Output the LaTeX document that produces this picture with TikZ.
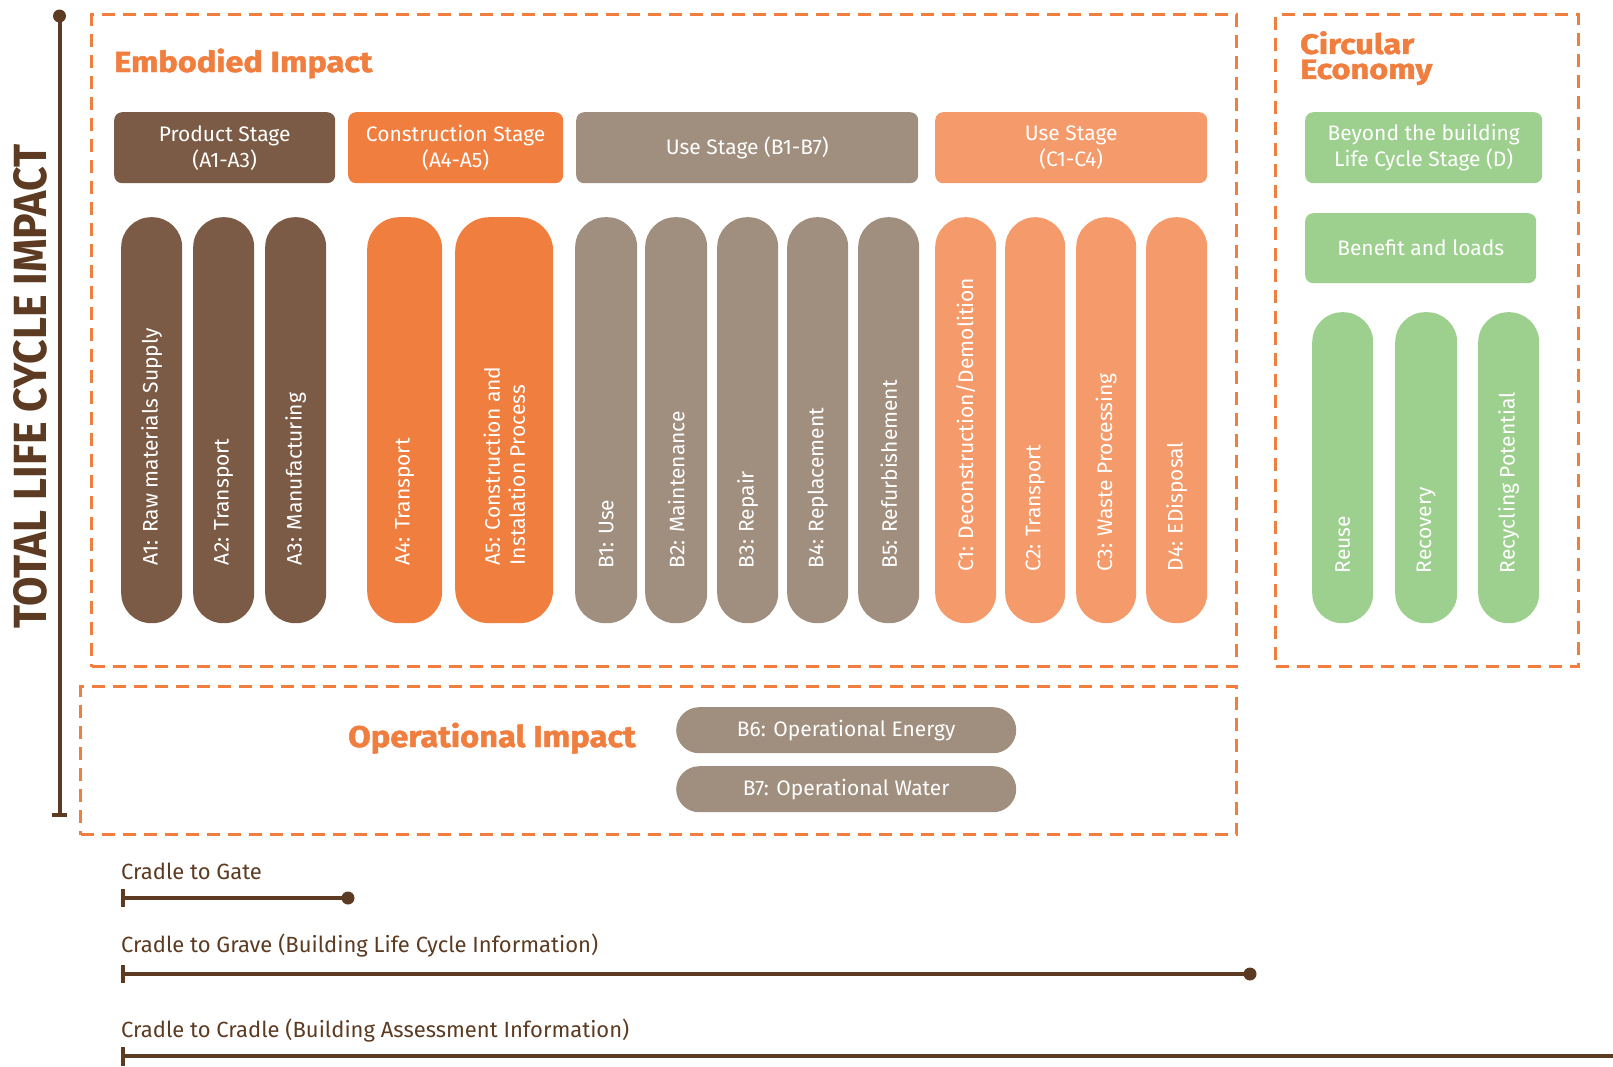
\documentclass[tikz,border=0pt]{standalone}
\usepackage{fontspec}
\setmainfont{Fira Sans}
\newfontfamily\heavyfont[BoldFeatures={FakeBold=1.5}]{Fira Sans}
\usepackage{graphicx}
\definecolor{brownD}{HTML}{7B5B45}
\definecolor{orangeC}{HTML}{F07E3F}
\definecolor{taupe}{HTML}{A08E7E}
\definecolor{orangeL}{HTML}{F59B6B}
\definecolor{greenL}{HTML}{9DD08F}
\definecolor{dashc}{HTML}{F07E3F}
\definecolor{axisc}{HTML}{5C3B22}
\newcommand\mkpill[7]{%
  \pgfmathsetmacro\pw{#3-#2}\pgfmathsetmacro\ph{#5-#4}%
  \node[pillbox, fill=#6, rounded corners=#7pt, minimum width=\pw pt, minimum height=\ph pt] (#1) at (#2,#4) {};}
\newcommand\mkbox[7]{%
  \pgfmathsetmacro\pw{#3-#2}\pgfmathsetmacro\ph{#5-#4}%
  \node[hdrbox, fill=#6, minimum width=\pw pt, minimum height=\ph pt] (#1) at (#2,#4) {#7};}
\begin{document}
\begin{tikzpicture}[x=1pt,y=-1pt,
  dashbox/.style={draw=dashc, line width=3pt, dash pattern=on 13pt off 8pt, inner sep=0, anchor=north west},
  hdrbox/.style={rectangle, rounded corners=8pt, inner sep=0, anchor=north west, text=white,
     font=\fontsize{21}{26}\selectfont, align=center},
  pillbox/.style={rectangle, inner sep=0, anchor=north west},
  vtext/.style={rotate=90, anchor=west, text=white, font=\fontsize{21}{25}\selectfont, inner sep=0, align=left},
  title/.style={text=dashc, font=\fontsize{29}{25}\selectfont\heavyfont\bfseries, inner sep=0},
  axisline/.style={draw=axisc, line width=4pt},
  bottomlabel/.style={text=axisc, font=\fontsize{22}{26}\selectfont, inner sep=0, anchor=base west},
  optext/.style={text=white, font=\fontsize{21}{25}\selectfont}
]
\useasboundingbox (0,0) rectangle (1613,1066);

% dashed frames
\node[dashbox, minimum width=1145pt, minimum height=652pt] (emb) at (90,13) {};
\node[dashbox, minimum width=303pt, minimum height=652pt] (circ) at (1274,13) {};
\node[dashbox, minimum width=1156pt, minimum height=148pt] (oper) at (79,685) {};

% titles
\node[title, anchor=base west] (embt) at (114,72) {\scalebox{1.12}[1]{Embodied Impact}};
\node[title, anchor=north west, align=left, font=\fontsize{28}{25}\selectfont\heavyfont\bfseries] (circt) at (1300,31) {\scalebox{1.16}[1]{Circular}\\\scalebox{1.16}[1]{Economy}};
\node[title, anchor=base west, font=\fontsize{30}{25}\selectfont\heavyfont\bfseries] (opert) at (348,747) {\scalebox{1.09}[1]{Operational Impact}};

% stage headers
\mkbox{prod}{114}{335}{112}{183}{brownD}{Product Stage\\(A1-A3)}
\mkbox{cons}{348}{563}{112}{183}{orangeC}{Construction Stage\\(A4-A5)}
\mkbox{useb}{576}{918}{112}{183}{taupe}{Use Stage (B1-B7)}
\mkbox{usec}{935}{1207}{112}{183}{orangeL}{Use Stage\\(C1-C4)}
\mkbox{beyond}{1305}{1542}{112}{183}{greenL}{Beyond the building\\Life Cycle Stage (D)}
\mkbox{benefit}{1305}{1536}{213}{283}{greenL}{Benefit and loads}

% pills
\mkpill{a1}{121}{182}{217}{623}{brownD}{30}
\mkpill{a2}{193}{254}{217}{623}{brownD}{30}
\mkpill{a3}{265}{326}{217}{623}{brownD}{30}
\mkpill{a4}{367}{442}{217}{623}{orangeC}{32}
\mkpill{a5}{455}{553}{217}{623}{orangeC}{34}
\mkpill{b1}{575}{637}{217}{623}{taupe}{30}
\mkpill{b2}{645}{707}{217}{623}{taupe}{30}
\mkpill{b3}{717}{778}{217}{623}{taupe}{30}
\mkpill{b4}{787}{848}{217}{623}{taupe}{30}
\mkpill{b5}{858}{919}{217}{623}{taupe}{30}
\mkpill{c1}{935}{996}{217}{623}{orangeL}{30}
\mkpill{c2}{1005}{1065}{217}{623}{orangeL}{30}
\mkpill{c3}{1076}{1136}{217}{623}{orangeL}{30}
\mkpill{d4}{1146}{1207}{217}{623}{orangeL}{30}
\mkpill{reuse}{1312}{1373}{312}{623}{greenL}{30}
\mkpill{recov}{1395}{1457}{312}{623}{greenL}{30}
\mkpill{recyc}{1478}{1539}{312}{623}{greenL}{30}

\node[vtext] (a1t) at ([yshift=58pt]a1.south) {A1: Raw materials Supply};
\node[vtext] (a2t) at ([yshift=58pt]a2.south) {A2: Transport};
\node[vtext] (a3t) at ([yshift=58pt]a3.south) {A3: Manufacturing};
\node[vtext] (a4t) at ([yshift=58pt]a4.south) {A4: Transport};
\node[vtext] (a5t) at ([yshift=58pt]a5.south) {A5: Construction and\\Instalation Process};
\node[vtext] (b1t) at ([yshift=55pt]b1.south) {B1: Use};
\node[vtext] (b2t) at ([yshift=55pt]b2.south) {B2: Maintenance};
\node[vtext] (b3t) at ([yshift=55pt]b3.south) {B3: Repair};
\node[vtext] (b4t) at ([yshift=55pt]b4.south) {B4: Replacement};
\node[vtext] (b5t) at ([yshift=55pt]b5.south) {B5: Refurbishement};
\node[vtext] (c1t) at ([yshift=52pt]c1.south) {C1: Deconstruction/Demolition};
\node[vtext] (c2t) at ([yshift=52pt]c2.south) {C2: Transport};
\node[vtext] (c3t) at ([yshift=52pt]c3.south) {C3: Waste Processing};
\node[vtext] (d4t) at ([yshift=52pt]d4.south) {D4: EDisposal};
\node[vtext] (reuset) at ([yshift=50pt]reuse.south) {Reuse};
\node[vtext] (recovt) at ([yshift=50pt]recov.south) {Recovery};
\node[vtext] (recyct) at ([yshift=50pt]recyc.south) {Recycling Potential};

% operational pills
\node[pillbox, fill=taupe, rounded corners=23pt, minimum width=340pt, minimum height=46pt, optext] (b6) at (676,707) {B6: Operational Energy};
\node[pillbox, fill=taupe, rounded corners=23pt, minimum width=340pt, minimum height=46pt, optext] (b7) at (676,766) {B7: Operational Water};

% total life cycle axis
\node[rotate=90, inner sep=0, text=axisc] (tlci) at (30.5,386) {\resizebox{484pt}{33pt}{\bfseries TOTAL LIFE CYCLE IMPACT}};
\coordinate (axtop) at (59.5,16);
\coordinate (axbot) at (59.5,815);
\coordinate (axbl) at (52,815);
\coordinate (axbr) at (67,815);
\draw[axisline] (axtop) -- (axbot);
\draw[axisline] (axbl) -- (axbr);
\fill[axisc] (axtop) circle (6.5);

% bottom ranges
\node[bottomlabel] (gatel) at (121,879) {Cradle to Gate};
\node[bottomlabel] (gravel) at (121,952) {Cradle to Grave (Building Life Cycle Information)};
\node[bottomlabel] (cradl) at (121,1037) {Cradle to Cradle (Building Assessment Information)};

\coordinate (g1) at (123,898); \coordinate (g2) at (348,898);
\coordinate (v1) at (123,974); \coordinate (v2) at (1250,974);
\coordinate (k1) at (123,1056); \coordinate (k2) at (1613,1056);
\draw[axisline] (g1) -- (g2);
\draw[axisline] ([yshift=9pt]g1) -- ([yshift=-9pt]g1);
\fill[axisc] (g2) circle (6.5);
\draw[axisline] (v1) -- (v2);
\draw[axisline] ([yshift=9pt]v1) -- ([yshift=-9pt]v1);
\fill[axisc] (v2) circle (6.5);
\draw[axisline] (k1) -- (k2);
\draw[axisline] ([yshift=9pt]k1) -- ([yshift=-10pt]k1);
\end{tikzpicture}
\end{document}
